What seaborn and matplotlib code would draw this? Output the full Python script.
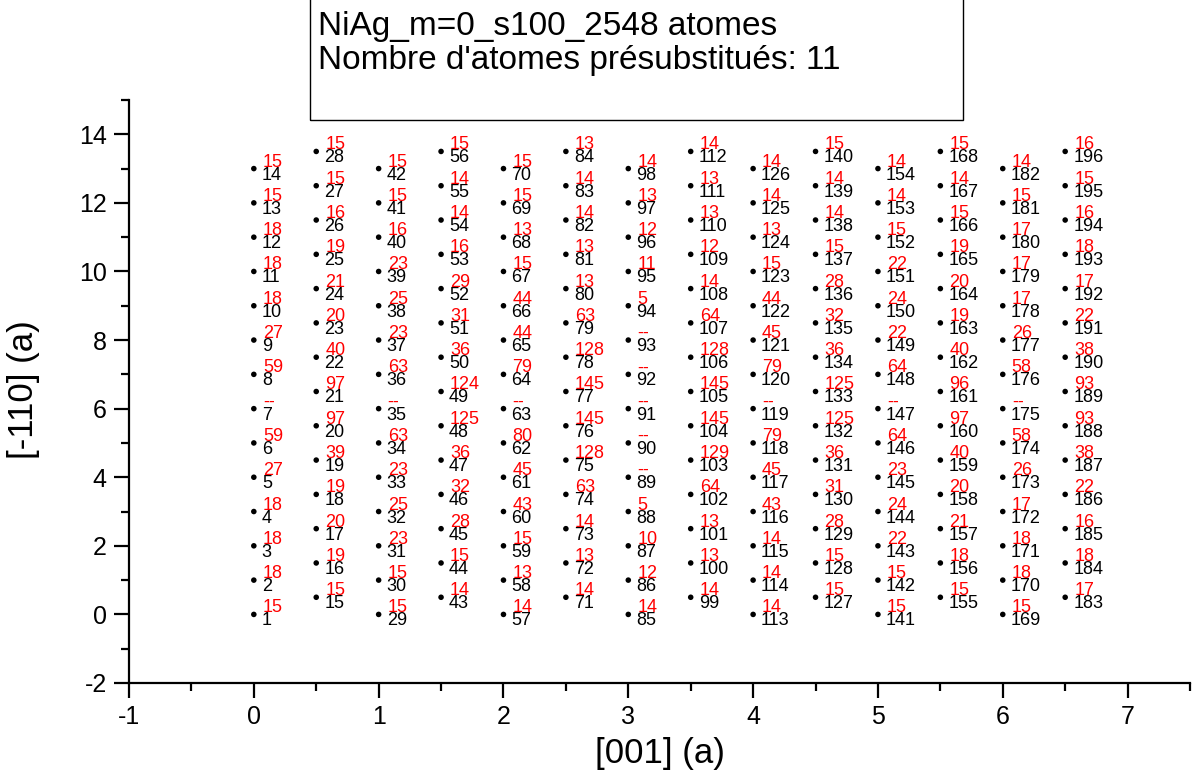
import matplotlib
matplotlib.use("Agg")
import matplotlib.pyplot as plt
from matplotlib.patches import Rectangle
from matplotlib.ticker import MultipleLocator
import seaborn as sns
import pandas as pd

# ---- data ----
column_x = [0, 0.5, 1, 1.5, 2, 2.5, 3, 3.5, 4, 4.5, 5, 5.5, 6, 6.5]
rows_per_column = 14
# red counts per column, bottom to top (None = "--")
col_00 = [15, 18, 18, 18, 27, 59, None, 59, 27, 18, 18, 18, 15, 15]
col_05 = [15, 19, 20, 19, 39, 97, 97, 40, 20, 21, 19, 16, 15, 15]
col_10 = [15, 15, 23, 25, 23, 63, None, 63, 23, 25, 23, 16, 15, 15]
col_15 = [14, 15, 28, 32, 36, 125, 124, 36, 31, 29, 16, 14, 14, 15]
col_20 = [14, 13, 15, 43, 45, 80, None, 79, 44, 44, 15, 13, 15, 15]
col_25 = [14, 13, 14, 63, 128, 145, 145, 128, 63, 13, 13, 14, 14, 13]
col_30 = [14, 12, 10, 5, None, None, None, None, None, 5, 11, 12, 13, 14]
col_35 = [14, 13, 13, 64, 129, 145, 145, 128, 64, 14, 12, 13, 13, 14]
col_40 = [14, 14, 14, 43, 45, 79, None, 79, 45, 44, 15, 13, 14, 14]
col_45 = [15, 15, 28, 31, 36, 125, 125, 36, 32, 28, 15, 14, 14, 15]
col_50 = [15, 15, 22, 24, 23, 64, None, 64, 22, 24, 22, 15, 14, 14]
col_55 = [15, 18, 21, 20, 40, 97, 96, 40, 19, 20, 19, 15, 14, 15]
col_60 = [15, 18, 18, 17, 26, 58, None, 58, 26, 17, 17, 17, 15, 14]
col_65 = [17, 18, 16, 22, 38, 93, 93, 38, 22, 17, 18, 16, 15, 16]
counts = [col_00, col_05, col_10, col_15, col_20, col_25, col_30,
          col_35, col_40, col_45, col_50, col_55, col_60, col_65]

title_lines = ["NiAg_m=0_s100_2548 atomes",
               "Nombre d'atomes présubstitués: 11"]
x_label = "[001] (a)"
y_label = "[-110] (a)"

# ---- build table ----
recs = []
idx = 1
for ci, cx in enumerate(column_x):
    y0 = 0.0 if ci % 2 == 0 else 0.5
    for r in range(rows_per_column):
        c = counts[ci][r]
        recs.append({"x": cx, "y": y0 + r, "index": idx,
                     "count": "--" if c is None else str(c)})
        idx += 1
df = pd.DataFrame(recs)

# ---- plot ----
sns.set_theme(style="ticks")
plt.rcParams["font.family"] = ["Liberation Sans", "DejaVu Sans"]
plt.rcParams["text.color"] = "black"
plt.rcParams["axes.labelcolor"] = "black"
plt.rcParams["xtick.color"] = "black"
plt.rcParams["ytick.color"] = "black"
plt.rcParams["axes.unicode_minus"] = False

fig = plt.figure(figsize=(12.03, 7.71), dpi=100)
ax = fig.add_axes([129 / 1203, 1 - 683 / 771, (1190 - 129) / 1203, (683 - 100) / 771])

sns.scatterplot(data=df, x="x", y="y", ax=ax, color="black", s=16,
                edgecolor="none", legend=False, zorder=3)

for _, row in df.iterrows():
    ax.annotate(str(row["index"]), (row["x"], row["y"]), xytext=(8, -11),
                textcoords="offset pixels", ha="left", va="baseline",
                fontsize=13, color="black")
    ax.annotate(row["count"], (row["x"], row["y"]), xytext=(9, 2),
                textcoords="offset pixels", ha="left", va="baseline",
                fontsize=13, color="red")

ax.set_xlim(-1, 7.5)
ax.set_ylim(-2, 15)
ax.xaxis.set_major_locator(MultipleLocator(1))
ax.xaxis.set_minor_locator(MultipleLocator(0.5))
ax.yaxis.set_major_locator(MultipleLocator(2))
ax.yaxis.set_minor_locator(MultipleLocator(1))
ax.tick_params(which="major", direction="out", length=11, width=1.6,
               labelsize=18, colors="black", pad=5)
ax.tick_params(which="minor", direction="out", length=6, width=1.6)
for s in ["top", "right"]:
    ax.spines[s].set_visible(False)
for s in ["left", "bottom"]:
    ax.spines[s].set_linewidth(1.6)
    ax.spines[s].set_color("black")

ax.set_xlabel(x_label, fontsize=25)
ax.set_ylabel(y_label, fontsize=25)
ax.xaxis.set_label_coords((660 - 129) / (1190 - 129), -(737 - 683) / (683 - 100))
ax.yaxis.set_label_coords(-(129 - 40) / (1190 - 129), (683 - 390) / (683 - 100))

# title box
fig.patches.append(Rectangle((310 / 1203, 1 - 120 / 771), (963 - 310) / 1203, 130 / 771,
                             transform=fig.transFigure, fill=False,
                             edgecolor="black", linewidth=1.0, clip_on=False))
fig.text(318 / 1203, 1 - 27 / 771, title_lines[0], fontsize=24, va="center", ha="left")
fig.text(318 / 1203, 1 - 60 / 771, title_lines[1], fontsize=24, va="center", ha="left")

fig.savefig("out.png", dpi=100)
